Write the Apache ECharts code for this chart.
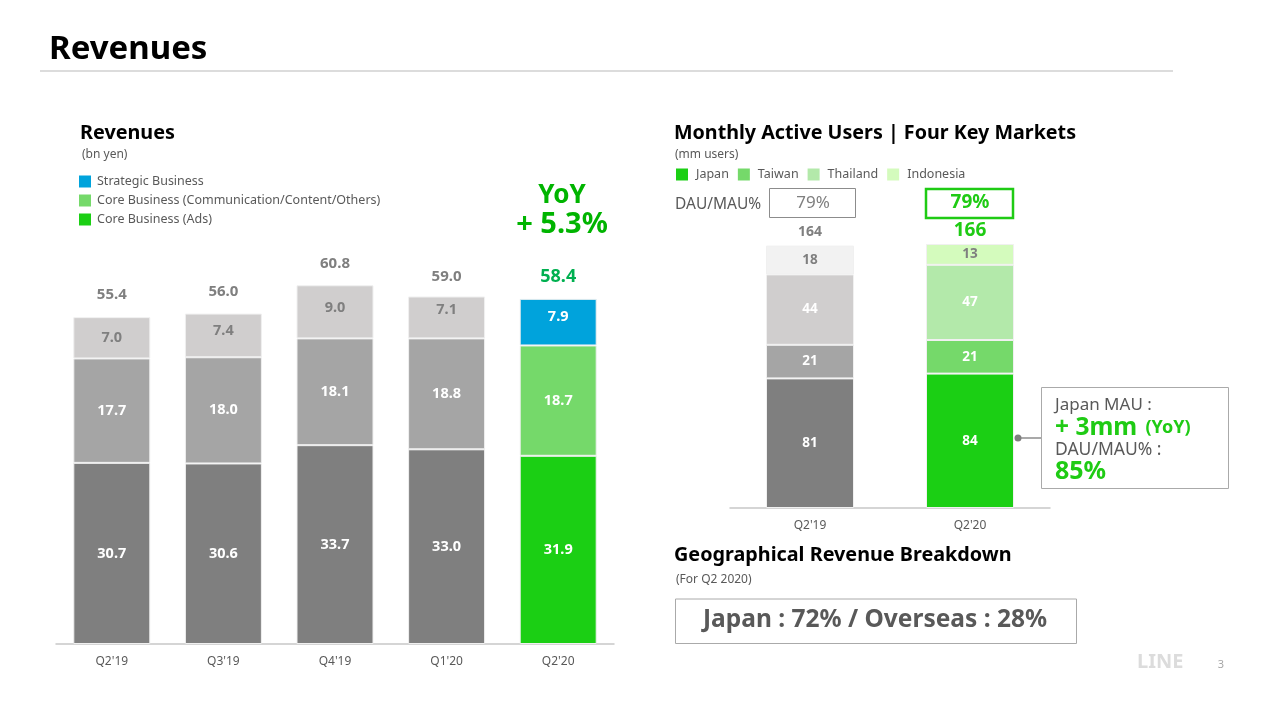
<!DOCTYPE html>
<html>
<head>
<meta charset="utf-8">
<title>Revenues</title>
<script src="https://cdn.jsdelivr.net/npm/echarts@6/dist/echarts.min.js"></script>
<style>
    html, body { margin: 0; padding: 0; background: #fff; }
    #main { width: 1267px; height: 708px; }
</style>
</head>
<body>
<div id="main"></div>
<script type="text/javascript">
    // 左图 收入
    var revQuarters = ["Q2'19", "Q3'19", "Q4'19", "Q1'20", "Q2'20"];
    var revAds = [30.7, 30.6, 33.7, 33.0, 31.9];
    var revComm = [17.7, 18.0, 18.1, 18.8, 18.7];
    var revStrategic = [7.0, 7.4, 9.0, 7.1, 7.9];
    var revTotals = [55.4, 56.0, 60.8, 59.0, 58.4];

    // 右图 MAU
    var mauQuarters = ["Q2'19", "Q2'20"];
    var mauJapan = [81, 84];
    var mauTaiwan = [21, 21];
    var mauThailand = [44, 47];
    var mauIndonesia = [18, 13];
    var mauTotals = [164, 166];

    var FONT = '"Noto Sans", sans-serif';
    var chart = echarts.init(document.getElementById('main'));

    function oneDecimal(p) {
        return p.value.toFixed(1);
    }

    // 最后一个点用彩色，其余用灰色
    function points(values, color, pastColor, labelColor, pastLabelColor, offsets) {
        return values.map(function (v, i) {
            var last = i === values.length - 1;
            return {
                value: v,
                itemStyle: { color: last ? color : pastColor },
                label: {
                    color: last ? labelColor : pastLabelColor,
                    offset: [0, offsets ? offsets[i] : 0]
                }
            };
        });
    }

    function stackBar(name, axis, stack, width, color, data) {
        return {
            name: name,
            type: 'bar',
            stack: stack,
            xAxisIndex: axis,
            yAxisIndex: axis,
            barWidth: width,
            itemStyle: { color: color, borderColor: '#f0f0f0', borderWidth: 1 },
            label: {
                show: true,
                position: 'inside',
                fontFamily: FONT,
                fontWeight: 'bold',
                fontSize: axis === 0 ? 14.5 : 13.5,
                formatter: axis === 0 ? oneDecimal : '{c}'
            },
            data: data
        };
    }

    // 总数标签，线本身不显示
    function totalLine(name, axis, values, pastColor, lastColor, pastSize, lastSize, distance, offsets) {
        return {
            name: name,
            type: 'line',
            xAxisIndex: axis,
            yAxisIndex: axis,
            symbol: 'circle',
            symbolSize: 1,
            showSymbol: true,
            itemStyle: { color: 'transparent' },
            lineStyle: { opacity: 0 },
            silent: true,
            data: values.map(function (v, i) {
                var last = i === values.length - 1;
                return {
                    value: v,
                    label: {
                        show: true,
                        position: 'top',
                        distance: distance,
                        offset: [0, offsets[i]],
                        fontFamily: FONT,
                        fontWeight: 'bold',
                        fontSize: last ? lastSize : pastSize,
                        color: last ? lastColor : pastColor,
                        formatter: axis === 0 ? oneDecimal : '{c}'
                    }
                };
            })
        };
    }

    function text(x, y, str, size, color, weight, align) {
        return {
            type: 'text',
            x: x,
            y: y,
            style: {
                text: str,
                fontFamily: FONT,
                fontSize: size,
                fontWeight: weight || 'normal',
                fill: color,
                align: align || 'left',
                verticalAlign: 'middle'
            }
        };
    }

    function box(x, y, w, h, stroke, lineWidth) {
        return {
            type: 'rect',
            shape: { x: x, y: y, width: w, height: h },
            style: { fill: '#fff', stroke: stroke, lineWidth: lineWidth }
        };
    }

    var options = {
        animation: false,
        backgroundColor: '#fff',
        grid: [
            { left: 56, top: 231, width: 558, height: 413 },
            { left: 730, top: 188, width: 320, height: 320 }
        ],
        legend: [
            {
                left: 79,
                top: 175,
                padding: 0,
                orient: 'vertical',
                itemWidth: 12,
                itemHeight: 12,
                itemGap: 6,
                selectedMode: false,
                icon: 'rect',
                itemStyle: { borderWidth: 0 },
                textStyle: { fontFamily: FONT, fontSize: 12.5, color: '#595959', padding: [0, 0, 0, 1] },
                data: ['Strategic Business', 'Core Business (Communication/Content/Others)', 'Core Business (Ads)']
            },
            {
                left: 676,
                top: 168,
                padding: 0,
                itemWidth: 12,
                itemHeight: 12,
                itemGap: 9,
                selectedMode: false,
                icon: 'rect',
                itemStyle: { borderWidth: 0 },
                textStyle: { fontFamily: FONT, fontSize: 12.5, color: '#595959', padding: [0, 0, 0, 3] },
                data: ['Japan', 'Taiwan', 'Thailand', 'Indonesia']
            }
        ],
        xAxis: [
            {
                type: 'category',
                gridIndex: 0,
                data: revQuarters,
                axisTick: { show: false },
                axisLine: { lineStyle: { color: '#c8c8c8', width: 1.5 } },
                axisLabel: { margin: 12, fontFamily: FONT, fontSize: 12, color: '#595959' }
            },
            {
                type: 'category',
                gridIndex: 1,
                data: mauQuarters,
                axisTick: { show: false },
                axisLine: { lineStyle: { color: '#c8c8c8', width: 1.5 } },
                axisLabel: { margin: 12, fontFamily: FONT, fontSize: 12, color: '#595959' }
            }
        ],
        yAxis: [
            { type: 'value', gridIndex: 0, min: 0, max: 70, show: false, splitLine: { show: false } },
            { type: 'value', gridIndex: 1, min: 0, max: 200, show: false, splitLine: { show: false } }
        ],
        series: [
            stackBar('Core Business (Ads)', 0, 'rev', 77, '#1bcf14', points(revAds, '#1bcf14', '#7f7f7f', '#fff', '#fff')),
            stackBar('Core Business (Communication/Content/Others)', 0, 'rev', 77, '#75d96a', points(revComm, '#75d96a', '#a5a5a5', '#fff', '#fff')),
            stackBar('Strategic Business', 0, 'rev', 77, '#00a3dc', points(revStrategic, '#00a3dc', '#d0cece', '#fff', '#7f7f7f', [0, -5, -4, -8, -5])),
            totalLine('revTotal', 0, revTotals, '#7f7f7f', '#00b050', 15, 18, 14, [0, 0, 0, 3, 1]),
            stackBar('Japan', 1, 'mau', 88, '#1bcf14', points(mauJapan, '#1bcf14', '#7f7f7f', '#fff', '#fff')),
            stackBar('Taiwan', 1, 'mau', 88, '#75d96a', points(mauTaiwan, '#75d96a', '#a5a5a5', '#fff', '#fff')),
            stackBar('Thailand', 1, 'mau', 88, '#b3e9aa', points(mauThailand, '#b3e9aa', '#d0cece', '#fff', '#fff')),
            stackBar('Indonesia', 1, 'mau', 88, '#d4fbbd', points(mauIndonesia, '#d4fbbd', '#f2f2f2', '#7f7f7f', '#7f7f7f')),
            totalLine('mauTotal', 1, mauTotals, '#7f7f7f', '#1fcb14', 14, 19, 6, [0, 4])
        ],
        graphic: [
            text(49, 50, 'Revenues', 33, '#000', 'bold'),
            { type: 'line', shape: { x1: 40, y1: 71, x2: 1173, y2: 71 }, style: { stroke: '#d0d0d0', lineWidth: 1.5 } },

            text(80, 133, 'Revenues', 19.8, '#000', 'bold'),
            text(82, 155, '(bn yen)', 12, '#595959'),
            text(562, 196, 'YoY', 26, '#00b400', 'bold', 'center'),
            text(562, 225, '+ 5.3%', 29, '#00b400', 'bold', 'center'),

            text(674, 133, 'Monthly Active Users | Four Key Markets', 19.7, '#000', 'bold'),
            text(675, 155, '(mm users)', 12, '#595959'),
            text(675, 205, 'DAU/MAU%', 15.5, '#595959'),
            box(769.5, 188.5, 86, 29, '#8c8c8c', 1),
            text(813, 203, '79%', 17, '#7f7f7f', 'normal', 'center'),
            box(926, 189, 87, 29, '#1fcb14', 2.5),
            text(970, 203, '79%', 19, '#1fcb14', 'bold', 'center'),

            { type: 'line', shape: { x1: 1018, y1: 438, x2: 1042, y2: 438 }, style: { stroke: '#8c8c8c', lineWidth: 1.5 } },
            { type: 'circle', shape: { cx: 1018, cy: 438, r: 3.5 }, style: { fill: '#7f7f7f' } },
            box(1041.5, 387.5, 187, 101, '#aaaaaa', 1),
            text(1055, 405, 'Japan MAU :', 17, '#595959'),
            {
                type: 'text',
                x: 1055,
                y: 428,
                style: {
                    text: '{a|+ 3mm} {b|(YoY)}',
                    verticalAlign: 'middle',
                    rich: {
                        a: { fontFamily: FONT, fontSize: 24.5, fontWeight: 'bold', fill: '#1fcb14', color: '#1fcb14' },
                        b: { fontFamily: FONT, fontSize: 18, fontWeight: 'bold', fill: '#1fcb14', color: '#1fcb14', padding: [0, 0, 0, 5] }
                    }
                }
            },
            text(1055, 450, 'DAU/MAU% :', 17.5, '#595959'),
            text(1055, 472, '85%', 25, '#1fcb14', 'bold'),

            text(674, 555, 'Geographical Revenue Breakdown', 19.8, '#000', 'bold'),
            text(676, 580, '(For Q2 2020)', 12, '#595959'),
            box(675.5, 599, 401, 44.5, '#aaaaaa', 1),
            text(875, 620, 'Japan : 72% / Overseas : 28%', 24.5, '#595959', 'bold', 'center'),

            text(1137, 662, 'LINE', 20, '#dcdcdc', 'bold'),
            text(1221, 665, '3', 11, '#a6a6a6', 'normal', 'center')
        ]
    };

    chart.setOption(options);
</script>
</body>
</html>
